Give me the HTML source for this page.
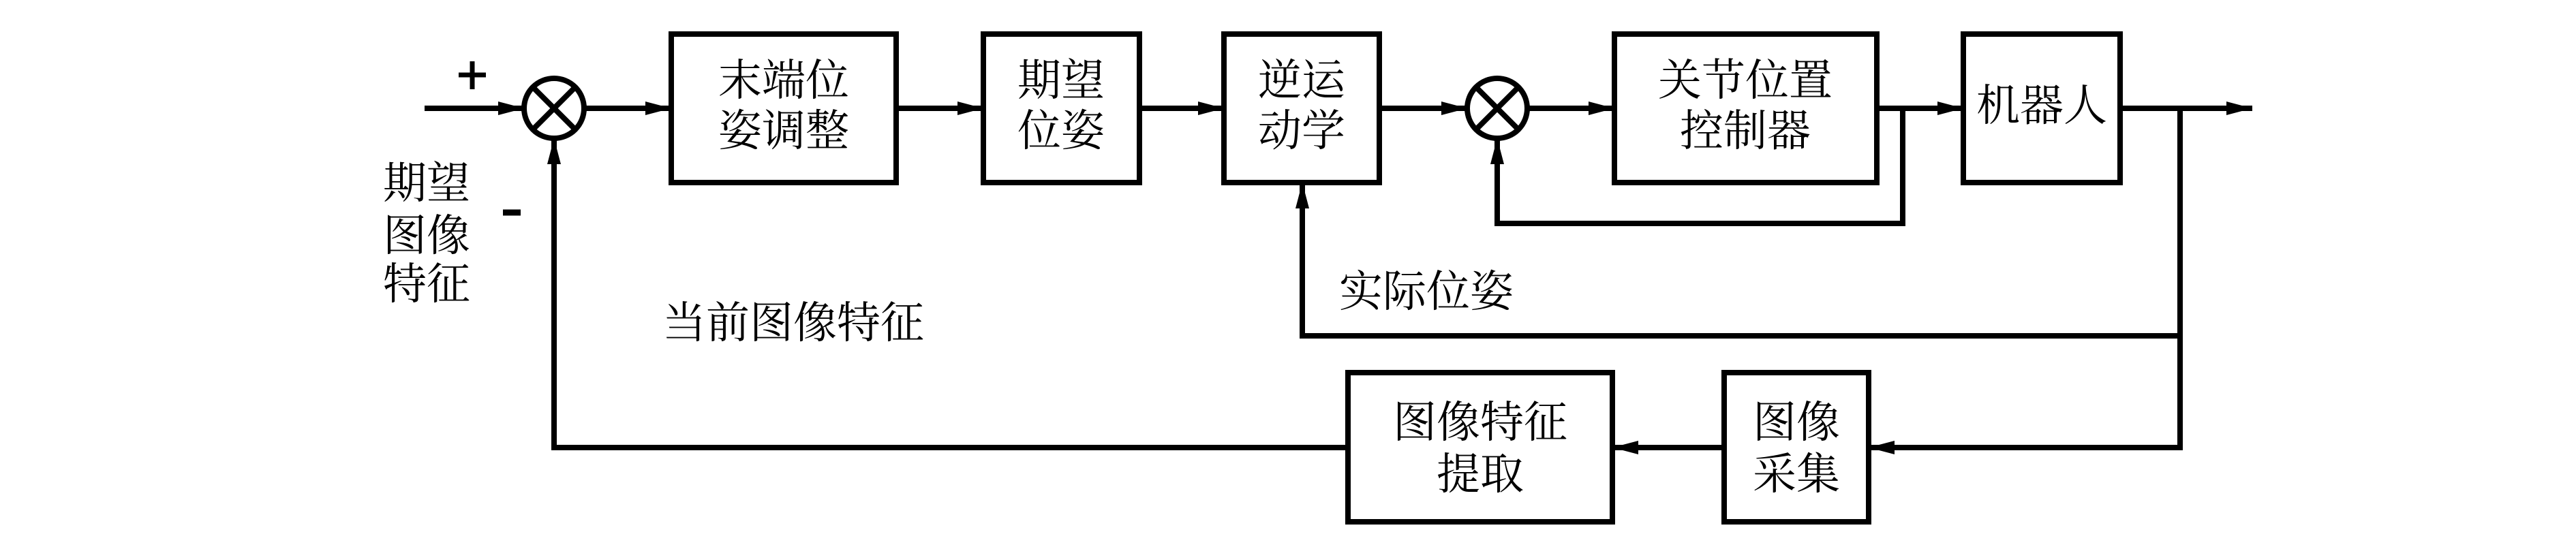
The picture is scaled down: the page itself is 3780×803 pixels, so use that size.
<!DOCTYPE html>
<html><head><meta charset="utf-8"><style>
html,body{margin:0;padding:0;background:#fff;}
svg{display:block;}
text{font-family:"Liberation Serif","Noto Serif CJK SC",serif;font-size:64px;fill:#000;}
</style></head><body>
<svg width="3780" height="803" viewBox="0 0 3780 803" xmlns="http://www.w3.org/2000/svg">
<defs>
<marker id="a" markerUnits="userSpaceOnUse" markerWidth="40" markerHeight="22" refX="38" refY="10" orient="auto">
<path d="M0,0 L38,10 L0,20 Z" fill="#000"/>
</marker>
</defs>
<g stroke="#000" stroke-width="8" fill="none">
<!-- boxes -->
<rect x="985" y="50" width="330" height="218"/>
<rect x="1443" y="50" width="229" height="218"/>
<rect x="1796" y="50" width="228" height="218"/>
<rect x="2369" y="50" width="385" height="218"/>
<rect x="2881" y="50" width="230" height="218"/>
<rect x="1978" y="547" width="388" height="219"/>
<rect x="2530" y="547" width="212" height="219"/>
<!-- summing junctions -->
<circle cx="813" cy="159" r="44"/>
<line x1="782" y1="128" x2="844" y2="190"/><line x1="844" y1="128" x2="782" y2="190"/>
<circle cx="2197" cy="159" r="44"/>
<line x1="2166" y1="128" x2="2228" y2="190"/><line x1="2228" y1="128" x2="2166" y2="190"/>
<!-- forward path -->
<line x1="623" y1="159" x2="769" y2="159" marker-end="url(#a)"/>
<line x1="857" y1="159" x2="985" y2="159" marker-end="url(#a)"/>
<line x1="1315" y1="159" x2="1443" y2="159" marker-end="url(#a)"/>
<line x1="1672" y1="159" x2="1796" y2="159" marker-end="url(#a)"/>
<line x1="2024" y1="159" x2="2153" y2="159" marker-end="url(#a)"/>
<line x1="2241" y1="159" x2="2369" y2="159" marker-end="url(#a)"/>
<line x1="2754" y1="159" x2="2881" y2="159" marker-end="url(#a)"/>
<line x1="3111" y1="159" x2="3305" y2="159" marker-end="url(#a)"/>
<!-- inner loop -->
<polyline points="2792,159 2792,328 2197,328 2197,203" marker-end="url(#a)"/>
<!-- actual pose -->
<polyline points="3199,159 3199,493 1911,493 1911,268" marker-end="url(#a)"/>
<!-- image path -->
<polyline points="3199,493 3199,657 2742,657" marker-end="url(#a)"/>
<line x1="2530" y1="657" x2="2366" y2="657" marker-end="url(#a)"/>
<polyline points="1978,657 813,657 813,203" marker-end="url(#a)"/>
<!-- plus / minus -->
<line x1="673" y1="110" x2="713" y2="110" stroke-width="7"/>
<line x1="693" y1="90" x2="693" y2="131" stroke-width="7"/>
<line x1="738" y1="312" x2="764" y2="312" stroke-width="9"/>
</g>
<g text-anchor="middle">
<text x="1150" y="140">末端位</text><text x="1150" y="214">姿调整</text>
<text x="1557" y="140">期望</text><text x="1557" y="214">位姿</text>
<text x="1910" y="140">逆运</text><text x="1910" y="214">动学</text>
<text x="2561" y="140">关节位置</text><text x="2561" y="214">控制器</text>
<text x="2996" y="177">机器人</text>
<text x="2172" y="642">图像特征</text><text x="2172" y="718">提取</text>
<text x="2636" y="642">图像</text><text x="2636" y="718">采集</text>
</g>
<text x="562" y="291">期望</text>
<text x="562" y="368">图像</text>
<text x="562" y="439">特征</text>
<text x="972" y="496">当前图像特征</text>
<text x="1965" y="450">实际位姿</text>
</svg>
</body></html>
